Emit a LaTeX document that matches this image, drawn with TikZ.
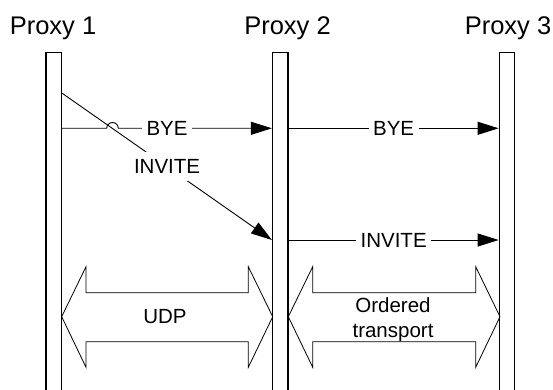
\documentclass[tikz,border=0pt]{standalone}
\usepackage{fontspec}
\setmainfont{Liberation Sans}
\usetikzlibrary{arrows.meta,calc}
\begin{document}
\begin{tikzpicture}[x=1pt,y=-1pt,
  bar/.style={draw, line width=1.3pt, minimum width=15.5pt, minimum height=345pt, inner sep=0pt, anchor=north},
  msg/.style={line width=0.9pt, -{Triangle[length=21pt,width=13pt]}},
  lbl/.style={fill=white, inner xsep=4.5pt, inner ysep=7.6pt, font=\fontsize{20.5}{24.6}\selectfont},
  proxy/.style={font=\fontsize{25.5}{30}\selectfont, anchor=base},
  transport/.style={draw, line width=0.8pt, line join=miter},
  ttext/.style={font=\fontsize{20.5}{24.6}\selectfont, align=center, inner sep=0pt}]
\useasboundingbox (0,0) rectangle (553,390);
\clip (0,0) rectangle (553,390);
% lifelines
\node[bar] (b1) at (53.8,51.7) {};
\node[bar] (b2) at (280.3,51.7) {};
\node[bar] (b3) at (507,51.7) {};
% headers
\node[proxy] (p1) at (53,34.3) {Proxy 1};
\node[proxy] (p2) at (287.5,34.3) {Proxy 2};
\node[proxy] (p3) at (508,34.3) {Proxy 3};
% helper levels
\coordinate (ys) at (0,93.3);
\coordinate (yb) at (0,128.3);
\coordinate (yi) at (0,240);
\coordinate (jump) at (112.5,128.3);
% BYE from Proxy 1 with line jump
\draw[msg] (b1.east |- yb) -- ($(jump)+(-5.8,0)$) arc[start angle=180, end angle=360, radius=5.8] -- (b2.west |- yb);
\node[lbl] (bye1) at ($(b1.east |- yb)!0.5!(b2.west |- yb)$) {BYE};
% INVITE diagonal
\draw[msg] (b1.east |- ys) -- (b2.west |- yi) node[lbl, midway] (inv1) {INVITE};
% forwarded messages
\draw[msg] (b2.east |- yb) -- (b3.west |- yb) node[lbl, midway] (bye2) {BYE};
\draw[msg] (b2.east |- yi) -- (b3.west |- yi) node[lbl, midway] (inv2) {INVITE};
% transport arrows
\draw[transport] (61.7,316.7) -- (86,266.7) -- (86,292.7) -- (248.3,292.7) -- (248.3,266.7)
  -- (272.7,316.7) -- (248.3,367.3) -- (248.3,341.7) -- (86,341.7) -- (86,367.3) -- cycle;
\draw[transport] (288.3,316.7) -- (312.7,266.7) -- (312.7,292.7) -- (475.7,292.7) -- (475.7,266.7)
  -- (500,316.7) -- (475.7,367.3) -- (475.7,341.7) -- (312.7,341.7) -- (312.7,367.3) -- cycle;
\node[ttext] (udp) at (165,316.7) {UDP};
\node[ttext] (ord) at (393,319.6) {Ordered\\transport};
\end{tikzpicture}
\end{document}
